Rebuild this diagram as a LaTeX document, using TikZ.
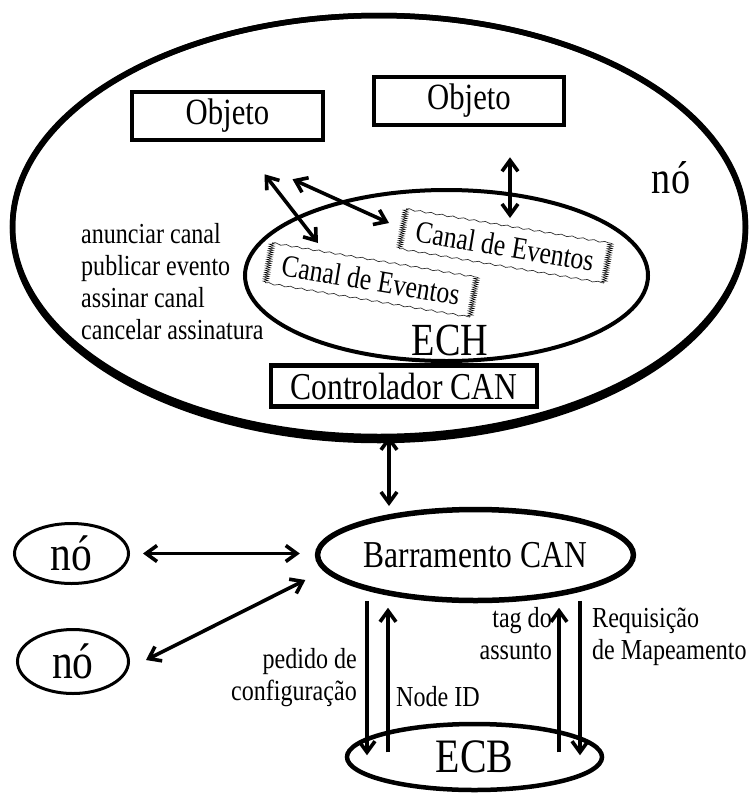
\documentclass[tikz,border=0pt]{standalone}
\usepackage{fontspec}
\setmainfont{Liberation Serif}[FakeStretch=0.83]
\usetikzlibrary{arrows.meta,shapes.geometric,decorations.pathmorphing,calc}
\begin{document}
\begin{tikzpicture}[x=1pt,y=-1pt,
  >={Straight Barb[length=11pt,width=16pt]},
  conn/.style={<->,line width=3.6pt},
  onearrow/.style={->,line width=3.6pt},
  box/.style={draw,line width=4.5pt,inner sep=0pt,font=\fontsize{37}{40}\selectfont},
  ell/.style={draw,ellipse,inner sep=0pt},
  lbl/.style={font=\fontsize{29}{32}\selectfont,inner sep=0pt},
  canal/.style={inner sep=0pt,minimum width=207pt,minimum height=40pt,rotate=-9.5,font=\fontsize{31}{34}\selectfont},
  wavy/.style={decorate,decoration={snake,amplitude=0.8pt,segment length=11pt},line width=0.7pt,black!80},
  zig/.style={decorate,decoration={zigzag,amplitude=2.6pt,segment length=2.2pt},line width=0.5pt}
]
\useasboundingbox (0,0) rectangle (749,793);

% outer node ellipse
\node[ell,line width=5.5pt,minimum width=733pt,minimum height=421pt] (outer) at (379,226) {};
\draw[line width=5.5pt] (379,228) ellipse [x radius=366.5pt, y radius=212.5pt];
\node[inner sep=0pt,anchor=base,font=\fontsize{46}{50}\selectfont] (nolbl) at (671,193) {nó};

% ECH
\node[ell,line width=4pt,minimum width=403pt,minimum height=171pt] (ech) at (446.5,275.5) {};
\node[inner sep=0pt,font=\fontsize{46}{50}\selectfont] (echlbl) at (450,340) {ECH};

% objects
\node[box,minimum width=191pt,minimum height=48pt] (obj1) at (227.5,116) {Objeto};
\node[box,minimum width=190pt,minimum height=48pt] (obj2) at (469,101) {Objeto};

% canals
\node[canal] (c1) at (505,246) {Canal de Eventos};
\node[canal] (c2) at (371,280) {Canal de Eventos};
\foreach \c in {c1,c2}{
  \draw[wavy] (\c.north west) -- (\c.north east);
  \draw[wavy] (\c.south west) -- (\c.south east);
  \draw[zig] (\c.north west) -- (\c.south west);
  \draw[zig] (\c.north east) -- (\c.south east);
}

% list
\node[lbl,anchor=west,align=left] (ops) at (81,282) {anunciar canal\\publicar evento\\assinar canal\\cancelar assinatura};

% controller
\node[box,minimum width=266pt,minimum height=41pt,font=\fontsize{38}{40}\selectfont] (ctrl) at (404,386) {Controlador CAN};

% bus
\node[ell,line width=5.5pt,minimum width=284pt,minimum height=91pt,font=\fontsize{38}{40}\selectfont] (barr) at (475.5,555) {Barramento CAN};
\node[ell,line width=4.5pt,minimum width=255pt,minimum height=66pt,font=\fontsize{48}{50}\selectfont] (ecb) at (474.5,757) {ECB};
\node[ell,line width=3pt,minimum width=114pt,minimum height=60pt,font=\fontsize{50}{52}\selectfont] (n1) at (71.5,553.5) {nó};
\node[ell,line width=3pt,minimum width=111pt,minimum height=64pt,font=\fontsize{50}{52}\selectfont] (n2) at (73,661.5) {nó};

% connectors inside
\draw[conn] ($(obj1.south)+(37,32)$) -- ($(c2.center)+(-53,-37)$);
\draw[conn] ($(obj1.south)+(65,37)$) -- ($(c1.center)+(-116,-23)$);
\draw[conn] ($(obj2.south)+(41,30)$) -- ($(c1.center)+(5,-28)$);
\draw[conn] ($(ctrl.south)+(-15,27)$) -- ($(barr.center)+(-86.5,-49)$);

% nodes to bus
\draw[conn] ($(n1.east)+(13,0)$) -- ($(barr.west)+(-15,-1.5)$);
\draw[conn] ($(n2.east)+(16,-1.5)$) -- ($(barr.west)+(-9.5,25)$);

% bus <-> ECB
\draw[onearrow] ($(barr.south)+(-108.5,-2.5)$) -- ($(ecb.north)+(-107.5,33.5)$);
\draw[onearrow] ($(ecb.north)+(-86.5,30.5)$) -- ($(barr.south)+(-87.5,4.5)$);
\draw[onearrow] ($(ecb.north)+(84.5,30.5)$) -- ($(barr.south)+(83.5,4.5)$);
\draw[onearrow] ($(barr.south)+(104.5,-2.5)$) -- ($(ecb.north)+(105.5,33.5)$);

% labels
\node[lbl,anchor=east,align=right] (lped) at (357,678) {pedido de\\configuração};
\node[lbl,anchor=base west] (lnid) at (396,706) {Node ID};
\node[lbl,anchor=east,align=right] (ltag) at (552,634) {tag do\\assunto};
\node[lbl,anchor=west,align=left] (lreq) at (592,637) {Requisição\\de Mapeamento};
\end{tikzpicture}
\end{document}
